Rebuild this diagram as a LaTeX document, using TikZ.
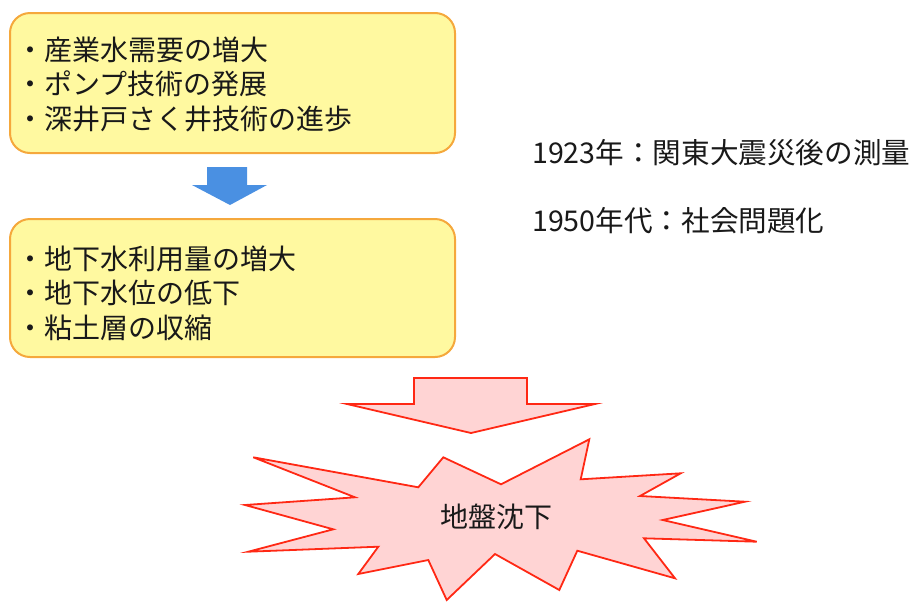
\documentclass[tikz,border=0pt]{standalone}
\usepackage{fontspec}
\setmainfont{Noto Sans CJK JP}
\definecolor{boxfill}{RGB}{255,249,160}
\definecolor{boxline}{RGB}{245,168,60}
\definecolor{bluearrow}{RGB}{74,144,226}
\definecolor{redline}{RGB}{255,40,20}
\definecolor{pinkfill}{RGB}{255,212,212}
\definecolor{txt}{RGB}{25,25,25}
\tikzset{
  x=1pt,y=-1pt,
  yellowbox/.style={draw=boxline,line width=2pt,fill=boxfill,rounded corners=20pt,minimum width=445pt,inner sep=0pt},
  listtext/.style={anchor=west,align=left,inner sep=0pt,text=txt,font=\fontsize{28}{34.5}\selectfont},
  plaintext/.style={anchor=west,inner sep=0pt,text=txt,font=\fontsize{28.6}{33}\selectfont},
  redshape/.style={draw=redline,line width=1.8pt,fill=pinkfill,line join=miter}
}
\begin{document}
\begin{tikzpicture}
\useasboundingbox (0,0) rectangle (917,603);
% boxes
\node[yellowbox,minimum height=140pt] (box1) at (232.5,83) {};
\node[yellowbox,minimum height=138pt] (box2) at (232.5,288) {};
\node[listtext] (t1) at (16,84) {・産業水需要の増大\\・ポンプ技術の発展\\・深井戸さく井技術の進歩};
\node[listtext] (t2) at (16,293) {・地下水利用量の増大\\・地下水位の低下\\・粘土層の収縮};
% blue block arrow
\fill[bluearrow] (207,167) -- (247,167) -- (247,185) -- (267,185) -- (230,205) -- (192,185) -- (207,185) -- cycle;
% right texts
\node[plaintext] (n1923) at (532,153) {1923年：関東大震災後の測量};
\node[plaintext] (n1950) at (532,221) {1950年代：社会問題化};
% red block arrow
\draw[redshape] (414,378) -- (527,378) -- (527,404) -- (595,404) -- (471,433) -- (347,404) -- (414,404) -- cycle;
% starburst
\draw[redshape] (253.3,457.3) -- (418.3,487.3) -- (443.3,457.3) -- (501,484.3) -- (589.3,439.3)
  -- (580.7,479.3) -- (680.7,473.3) -- (640,496) -- (745,501.7) -- (662.7,520) -- (756.7,541.7)
  -- (644,538.3) -- (675,578.3) -- (577.3,550.7) -- (559.3,590) -- (495,554) -- (446.7,600)
  -- (428.3,560) -- (358.3,574) -- (378.3,546.7) -- (248.3,551.7) -- (333.3,529.3) -- (245,505)
  -- (355,497.3) -- cycle;
\node[inner sep=0pt,text=txt,font=\fontsize{28}{33}\selectfont] (burst) at (496,517) {地盤沈下};
\end{tikzpicture}
\end{document}
